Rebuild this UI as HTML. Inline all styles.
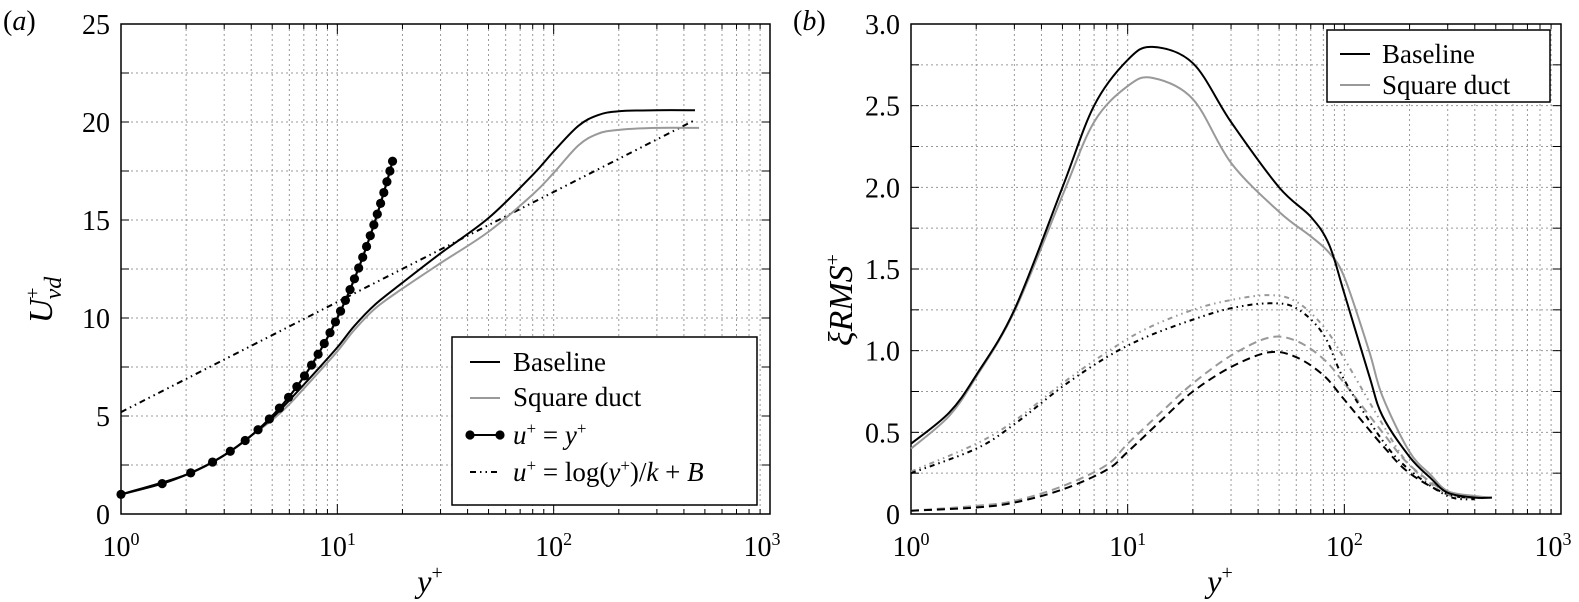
<!DOCTYPE html>
<html><head><meta charset="utf-8"><style>
html,body{margin:0;padding:0;background:#fff}
svg{display:block}
svg text{font-family:"Liberation Serif","DejaVu Serif",serif}
</style></head><body>
<svg id="svg" width="1579" height="602" viewBox="0 0 1579 602" xmlns="http://www.w3.org/2000/svg" font-family="Liberation Serif, DejaVu Serif, serif"></svg>
<script>
// ---------- Panel (a) data ----------
const aBaseX=[1,2,3,4,5,6,7,8,10,12,15,20,30,50,80,100,130,160,200,300,450];
const aBaseY=[1,2,3,4,4.9,5.8,6.6,7.3,8.5,9.6,10.7,11.8,13.3,15.1,17.3,18.5,19.8,20.35,20.55,20.6,20.6];
const aSqX=[1,2,3,4,5,6,7,8,10,12,15,20,30,50,80,100,130,160,200,300,470];
const aSqY=[1,2,3,4,4.8,5.6,6.4,7.1,8.3,9.4,10.5,11.5,12.8,14.4,16.3,17.4,18.8,19.4,19.6,19.7,19.7];
const aLinX=[1,1.55,2.1,2.65,3.2,3.75,4.3,4.85,5.4,5.95,6.5,7.05,7.6,8.15,8.7,9.25,9.8,10.35,10.9,11.45,12,12.55,13.1,13.65,14.2,14.75,15.3,15.85,16.4,16.95,17.5,18];
const aLinY=[1,1.55,2.1,2.65,3.2,3.75,4.3,4.85,5.4,5.95,6.5,7.05,7.6,8.15,8.7,9.25,9.8,10.35,10.9,11.45,12,12.55,13.1,13.65,14.2,14.75,15.3,15.85,16.4,16.95,17.5,18];
const aLogX=[1,450];
const aLogY=[5.2,20.1];
const aYTicks=[0,5,10,15,20,25];
// ---------- Panel (b) data ----------
const bBaseX=[1,1.5,2,3,5,7,10,13,20,30,50,70,85,100,130,150,200,250,300,400,480];
const bBaseY=[0.43,0.62,0.85,1.25,2.0,2.5,2.78,2.86,2.76,2.4,2.0,1.82,1.65,1.35,0.85,0.6,0.35,0.22,0.13,0.1,0.1];
const bSqX=[1,1.5,2,3,5,7,10,13,20,30,50,70,85,100,130,150,200,250,300,400,480];
const bSqY=[0.4,0.6,0.84,1.24,1.95,2.4,2.62,2.67,2.54,2.15,1.85,1.7,1.6,1.45,1.0,0.72,0.38,0.24,0.14,0.11,0.1];
const bBaseDdX=[1,2,3,5,8,12,20,30,45,60,80,100,150,200,300,400];
const bBaseDdY=[0.25,0.4,0.55,0.78,0.96,1.08,1.19,1.26,1.29,1.26,1.1,0.82,0.45,0.27,0.11,0.09];
const bSqDdX=[1,2,3,5,8,12,20,30,45,60,80,100,150,200,300,400];
const bSqDdY=[0.26,0.43,0.57,0.8,0.99,1.13,1.25,1.31,1.34,1.3,1.15,0.95,0.55,0.3,0.12,0.1];
const bBaseDsX=[1,2,3,5,8,10,15,20,30,45,60,80,100,150,200,300,400];
const bBaseDsY=[0.02,0.04,0.07,0.15,0.27,0.38,0.6,0.75,0.9,0.99,0.96,0.85,0.7,0.42,0.25,0.12,0.1];
const bSqDsX=[1,2,3,5,8,10,15,20,30,45,60,80,100,150,200,300,400];
const bSqDsY=[0.02,0.05,0.08,0.17,0.3,0.43,0.65,0.8,0.97,1.08,1.06,0.95,0.8,0.5,0.3,0.13,0.1];
const bYTicks=[0,0.5,1.0,1.5,2.0,2.5,3.0];
const xTickExp=[0,1,2,3];

const NS="http://www.w3.org/2000/svg";
const svg=document.getElementById('svg');
function mk(tag,attrs,parent){const e=document.createElementNS(NS,tag);for(const k in attrs)e.setAttribute(k,attrs[k]);(parent||svg).appendChild(e);return e;}

function panel(x0,x1,yt,yb,ymax,minorStep,name){
  const g=mk('g',{});
  
  
  const sx=v=>x0+(Math.log10(v))/3*(x1-x0);
  const sy=v=>yb-v/ymax*(yb-yt);
  for(let d=0;d<3;d++)for(let m=1;m<=9;m++){const v=m*Math.pow(10,d);if(v===1)continue;const x=sx(v);
    mk('line',{x1:x,x2:x,y1:yt,y2:yb,stroke:'#999','stroke-width':1,'stroke-dasharray':'2,3'},g);
    mk('line',{x1:x,x2:x,y1:yb,y2:yb-(m===1?10:5),stroke:'#000','stroke-width':1},g);
    mk('line',{x1:x,x2:x,y1:yt,y2:yt+(m===1?10:5),stroke:'#000','stroke-width':1},g);}
  for(let v=minorStep;v<ymax-1e-9;v+=minorStep){const y=sy(v);
    mk('line',{x1:x0,x2:x1,y1:y,y2:y,stroke:'#999','stroke-width':1,'stroke-dasharray':'2,3'},g);
    mk('line',{x1:x0,x2:x0+8,y1:y,y2:y,stroke:'#000'},g);
    mk('line',{x1:x1,x2:x1-8,y1:y,y2:y,stroke:'#000'},g);}
  mk('rect',{x:x0,y:yt,width:x1-x0,height:yb-yt,fill:'none',stroke:'#000','stroke-width':1.5},g);
  return {g,sx,sy};
}
function curve(P,xs,ys,attrs,name){
  const pts=xs.map((x,i)=>[P.sx(x),P.sy(ys[i])]);
  let d='M'+pts[0][0]+','+pts[0][1];
  for(let i=0;i<pts.length-1;i++){const p0=pts[Math.max(0,i-1)],p1=pts[i],p2=pts[i+1],p3=pts[Math.min(pts.length-1,i+2)];
    const c1=[p1[0]+(p2[0]-p0[0])/6,p1[1]+(p2[1]-p0[1])/6],c2=[p2[0]-(p3[0]-p1[0])/6,p2[1]-(p3[1]-p1[1])/6];
    d+=' C'+c1+' '+c2+' '+p2;}
  const e=mk('path',Object.assign({d,fill:'none'},attrs),P.g);
  
  
  return e;
}
function text(x,y,s,attrs,name,parent){const t=mk('text',Object.assign({x,y,'font-family':'Liberation Serif, DejaVu Serif, serif'},attrs),parent);t.innerHTML=s;
  
  
  return t;}

// Panel a
const A=panel(121,770,24,514,25,2.5,'panel-a');
aYTicks.forEach(v=>text(110,A.sy(v)+10,String(v),{'font-size':28,'text-anchor':'end'},'y-tick-label',A.g));
xTickExp.forEach(e=>text(A.sx(Math.pow(10,e))+(e===3?-8:0),556,'10<tspan dy="-11" font-size="18">'+e+'</tspan>',{'font-size':28,'text-anchor':'middle'},'x-tick-label',A.g));
text(430,592,'<tspan font-style="italic">y</tspan><tspan dy="-13" font-size="20">+</tspan>',{'font-size':32,'text-anchor':'middle'},'x-axis-title',A.g);
text(3,30,'(<tspan font-style="italic">a</tspan>)',{'font-size':28},'panel-label-a',A.g);
text(0,0,'<tspan font-style="italic">U</tspan><tspan dy="-13" font-size="20">+</tspan><tspan dy="22" dx="-12" font-size="24" font-style="italic">vd</tspan>',{'font-size':34,transform:'translate(52,300) rotate(-90)','text-anchor':'middle'},'y-axis-title',A.g);
curve(A,aLogX,aLogY,{stroke:'#000','stroke-width':2,'stroke-dasharray':'6,4,1.5,4,1.5,4'},'log-law-line');
curve(A,aSqX,aSqY,{stroke:'#999','stroke-width':2},'square-duct-line');
curve(A,aBaseX,aBaseY,{stroke:'#000','stroke-width':2},'baseline-line');
curve(A,aLinX,aLinY,{stroke:'#000','stroke-width':2.2},'linear-law-line');
aLinX.forEach((x,i)=>{const c=mk('circle',{cx:A.sx(x),cy:A.sy(aLinY[i]),r:4.6,fill:'#000'},A.g);
  
  });
const la=mk('g',{},A.g);


mk('rect',{x:452,y:337,width:305,height:168,fill:'#fff',stroke:'#000','stroke-width':1.5},la);
mk('line',{x1:470,x2:500,y1:362,y2:362,stroke:'#000','stroke-width':2},la);
text(513,371,'Baseline',{'font-size':27},'legend-entry-baseline',la);
mk('line',{x1:470,x2:500,y1:398,y2:398,stroke:'#999','stroke-width':2},la);
text(513,406,'Square duct',{'font-size':27},'legend-entry-square-duct',la);
mk('line',{x1:470,x2:500,y1:435,y2:435,stroke:'#000','stroke-width':2},la);
mk('circle',{cx:470,cy:435,r:4.6,fill:'#000'},la);mk('circle',{cx:500,cy:435,r:4.6,fill:'#000'},la);
text(513,444,'<tspan font-style="italic">u</tspan><tspan dy="-10" font-size="17">+</tspan><tspan dy="10"> = </tspan><tspan font-style="italic">y</tspan><tspan dy="-10" font-size="17">+</tspan>',{'font-size':27},'legend-entry-linear-law',la);
mk('line',{x1:470,x2:500,y1:472,y2:472,stroke:'#000','stroke-width':2,'stroke-dasharray':'6,4,1.5,4,1.5,4'},la);
text(513,481,'<tspan font-style="italic">u</tspan><tspan dy="-10" font-size="17">+</tspan><tspan dy="10"> = log(</tspan><tspan font-style="italic">y</tspan><tspan dy="-10" font-size="17">+</tspan><tspan dy="10">)/</tspan><tspan font-style="italic">k</tspan> + <tspan font-style="italic">B</tspan>',{'font-size':27},'legend-entry-log-law',la);

// Panel b
const B=panel(911,1561,24,514,3,0.25,'panel-b');
bYTicks.forEach(v=>text(900,B.sy(v)+10,v===0?'0':v.toFixed(1),{'font-size':28,'text-anchor':'end'},'y-tick-label',B.g));
xTickExp.forEach(e=>text(B.sx(Math.pow(10,e))+(e===3?-8:0),556,'10<tspan dy="-11" font-size="18">'+e+'</tspan>',{'font-size':28,'text-anchor':'middle'},'x-tick-label',B.g));
text(1220,592,'<tspan font-style="italic">y</tspan><tspan dy="-13" font-size="20">+</tspan>',{'font-size':32,'text-anchor':'middle'},'x-axis-title',B.g);
text(793,30,'(<tspan font-style="italic">b</tspan>)',{'font-size':28},'panel-label-b',B.g);
text(0,0,'<tspan font-style="italic">ξRMS</tspan><tspan dy="-13" font-size="20">+</tspan>',{'font-size':34,transform:'translate(852,300) rotate(-90)','text-anchor':'middle'},'y-axis-title',B.g);
curve(B,bSqDsX,bSqDsY,{stroke:'#999','stroke-width':2,'stroke-dasharray':'8,5'},'square-duct-dashed');
curve(B,bBaseDsX,bBaseDsY,{stroke:'#000','stroke-width':2,'stroke-dasharray':'8,5'},'baseline-dashed');
curve(B,bSqDdX,bSqDdY,{stroke:'#999','stroke-width':2,'stroke-dasharray':'5,4,1.5,4,1.5,4'},'square-duct-dashdot');
curve(B,bBaseDdX,bBaseDdY,{stroke:'#000','stroke-width':2,'stroke-dasharray':'5,4,1.5,4,1.5,4'},'baseline-dashdot');
curve(B,bSqX,bSqY,{stroke:'#999','stroke-width':2},'square-duct-solid');
curve(B,bBaseX,bBaseY,{stroke:'#000','stroke-width':2},'baseline-solid');
const lb=mk('g',{},B.g);


mk('rect',{x:1327,y:30,width:223,height:72,fill:'#fff',stroke:'#000','stroke-width':1.5},lb);
mk('line',{x1:1340,x2:1370,y1:54,y2:54,stroke:'#000','stroke-width':2},lb);
text(1382,63,'Baseline',{'font-size':27},'legend-entry-baseline',lb);
mk('line',{x1:1340,x2:1370,y1:85,y2:85,stroke:'#999','stroke-width':2},lb);
text(1382,94,'Square duct',{'font-size':27},'legend-entry-square-duct',lb);
</script>
</body></html>
